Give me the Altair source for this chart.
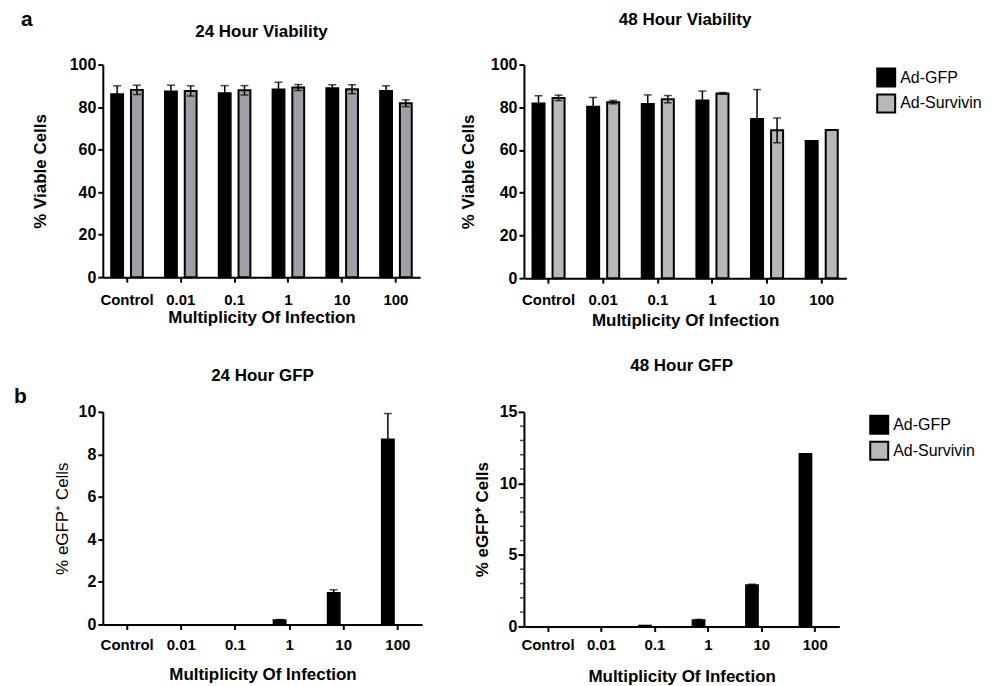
import altair as alt
import pandas as pd

doses = ["Control", "0.01", "0.1", "1", "10", "100"]
trts = ["Ad-GFP", "Ad-Survivin"]

# 24 h viability
via24_gfp = [86.0, 87.3, 86.5, 88.3, 88.9, 87.6]
via24_gfp_err = [4.0, 3.0, 3.6, 3.4, 1.6, 2.4]
via24_surv = [88.1, 87.6, 87.9, 89.2, 88.4, 81.8]
via24_surv_err = [2.2, 2.4, 2.2, 1.4, 2.1, 1.6]
# 48 h viability
via48_gfp = [81.8, 80.2, 81.6, 83.2, 74.5, 64.2]
via48_gfp_err = [3.6, 4.4, 4.2, 4.4, 13.8, 0.0]
via48_surv = [84.4, 82.4, 83.8, 86.5, 69.2, 69.4]
via48_surv_err = [1.3, 0.8, 1.7, 0.4, 5.8, 0.0]
# 24 h GFP
gfp24_gfp = [0.0, 0.0, 0.0, 0.2, 1.48, 8.7]
gfp24_gfp_err = [0.0, 0.0, 0.0, 0.03, 0.15, 1.22]
gfp24_surv = [0.0, 0.0, 0.0, 0.0, 0.0, 0.0]
gfp24_surv_err = [0.0, 0.0, 0.0, 0.0, 0.0, 0.0]
# 48 h GFP
gfp48_gfp = [0.0, 0.0, 0.05, 0.44, 2.88, 12.05]
gfp48_gfp_err = [0.0, 0.0, 0.0, 0.05, 0.07, 0.0]
gfp48_surv = [0.0, 0.0, 0.0, 0.0, 0.0, 0.0]
gfp48_surv_err = [0.0, 0.0, 0.0, 0.0, 0.0, 0.0]

titles = ["24 Hour Viability", "48 Hour Viability", "24 Hour GFP", "48 Hour GFP"]
panel_letters = ["a", "b"]
gfp48_major = [0, 5, 10, 15]
gfp48_minor = [1, 2, 3, 4, 6, 7, 8, 9, 11, 12, 13, 14]
FONT = "Liberation Sans"


def make_df(g, ge, s, se):
    rows = []
    for i, d in enumerate(doses):
        rows.append({"dose": d, "trt": trts[0], "val": g[i], "err": ge[i]})
        rows.append({"dose": d, "trt": trts[1], "val": s[i], "err": se[i]})
    df = pd.DataFrame(rows)
    df["lo"] = df["val"] - df["err"]
    df["hi"] = df["val"] + df["err"]
    return df


def panel(df, width, height, ymax, yvals, ytitle, title, title_y, grey,
          x_label_pad, x_title_pad, y_title_pad, y_title_weight="bold",
          legend=False, letter=None, letter_xy=(0, 0), minor=None, ytick=5):
    x = alt.X("dose:N", sort=doses,
              scale=alt.Scale(domain=doses, paddingInner=0.2, paddingOuter=0.05),
              axis=alt.Axis(title="Multiplicity Of Infection", labelAngle=0,
                            labelPadding=x_label_pad, titlePadding=x_title_pad))
    xo = alt.XOffset("trt:N", sort=trts,
                     scale=alt.Scale(domain=trts, paddingInner=0.4, paddingOuter=0.29))
    y = alt.Y("val:Q", scale=alt.Scale(domain=[0, ymax], nice=False, zero=True),
              axis=alt.Axis(title=ytitle, values=yvals, grid=False, titlePadding=y_title_pad,
                            titleFontWeight=y_title_weight, tickSize=ytick,
                            labelPadding=2 + 5 - ytick))
    if legend:
        leg = alt.Legend(orient="none", legendX=width + 30, legendY=3, title=None,
                         symbolType="square", symbolSize=324, symbolStrokeColor="black",
                         symbolStrokeWidth=2, labelFont=FONT, labelFontSize=16,
                         labelColor="black", labelOffset=4, rowPadding=0)
    else:
        leg = None
    fill = alt.Fill("trt:N", scale=alt.Scale(domain=trts, range=["black", grey]), legend=leg)

    base = alt.Chart(df)
    bars = base.transform_filter("datum.val > 0").mark_bar(
        stroke="black", strokeWidth=2).encode(x=x, xOffset=xo, y=y, fill=fill)
    errd = base.transform_filter("datum.err > 0")
    rule = errd.mark_rule(color="black", strokeWidth=1.5).encode(
        x=x, xOffset=xo, y="lo:Q", y2="hi:Q")
    cap_hi = errd.mark_tick(color="black", thickness=1.5, size=8).encode(x=x, xOffset=xo, y="hi:Q")
    cap_lo = errd.mark_tick(color="black", thickness=1.5, size=8).encode(x=x, xOffset=xo, y="lo:Q")

    ttl = alt.Chart(pd.DataFrame({"t": [title]})).mark_text(
        font=FONT, fontSize=17, fontWeight="bold", color="black",
        align="center", baseline="middle").encode(
        text="t:N", x=alt.value(width / 2), y=alt.value(title_y))
    layers = [bars, rule, cap_hi, cap_lo, ttl]
    if minor is not None:
        mt = alt.Chart(pd.DataFrame({"val": minor})).mark_tick(
            color="black", thickness=1.5, size=4, orient="horizontal").encode(
            y="val:Q", x=alt.value(-2))
        layers.append(mt)
    if letter is not None:
        lt = alt.Chart(pd.DataFrame({"t": [letter]})).mark_text(
            font=FONT, fontSize=21, fontWeight="bold", color="black",
            align="left", baseline="middle").encode(
            text="t:N", x=alt.value(letter_xy[0]), y=alt.value(letter_xy[1]))
        layers.append(lt)
    return alt.layer(*layers).properties(width=width, height=height)


tl = panel(make_df(via24_gfp, via24_gfp_err, via24_surv, via24_surv_err),
           318, 213, 100, [0, 20, 40, 60, 80, 100], "% Viable Cells", titles[0], -33,
           "#a09fa6", 10, 2, 20, letter=panel_letters[0], letter_xy=(-82, -45))
tr = panel(make_df(via48_gfp, via48_gfp_err, via48_surv, via48_surv_err),
           323, 214, 100, [0, 20, 40, 60, 80, 100], "% Viable Cells", titles[1], -45,
           "#b8b8b8", 9, 5, 13, legend=True)
bl = panel(make_df(gfp24_gfp, gfp24_gfp_err, gfp24_surv, gfp24_surv_err),
           320, 213, 10, [0, 2, 4, 6, 8, 10], "% eGFP\u207a Cells", titles[2], -36,
           "#b8b8b8", 8, 14, 7, y_title_weight="normal",
           letter=panel_letters[1], letter_xy=(-89, -15))
br = panel(make_df(gfp48_gfp, gfp48_gfp_err, gfp48_surv, gfp48_surv_err),
           316, 215, 15, gfp48_major, "% eGFP\u207a Cells", titles[3], -46,
           "#b8b8b8", 6, 16, 8, legend=True, minor=gfp48_minor, ytick=6)

top = alt.hconcat(tl, tr, spacing=104, bounds="flush").resolve_scale(
    fill="independent", xOffset="independent")
bottom = alt.hconcat(bl, br, spacing=102, bounds="flush").resolve_scale(
    fill="independent", xOffset="independent")

chart = alt.vconcat(top, bottom, spacing=29).resolve_scale(
    fill="independent", xOffset="independent").properties(
    padding={"left": 6, "top": 0, "right": 5, "bottom": 2}
).configure_view(stroke=None).configure_axis(
    domainColor="black", domainWidth=2, tickColor="black", tickWidth=2, tickSize=5,
    labelFont=FONT, labelFontSize=15, labelFontWeight="bold", labelColor="black",
    titleFont=FONT, titleFontSize=17, titleFontWeight="bold", titleColor="black",
).configure_axisY(labelFontSize=16)

chart.save("out.html", embed_options={"renderer": "svg", "actions": False})
